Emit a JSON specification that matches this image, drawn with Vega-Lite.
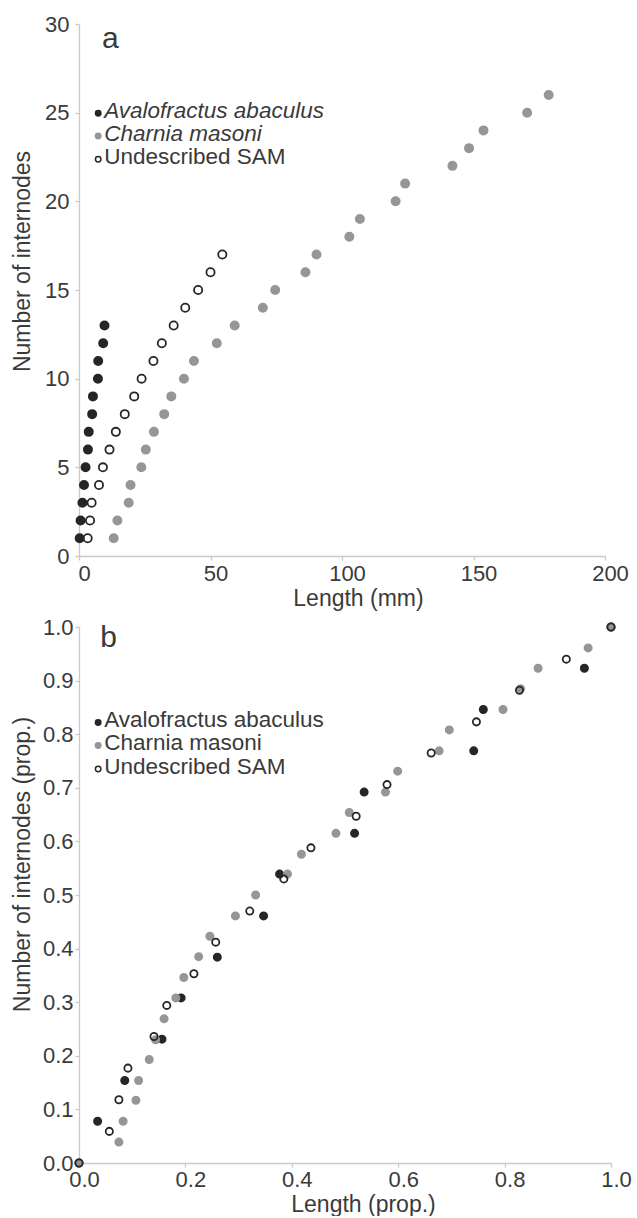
{
  "$schema": "https://vega.github.io/schema/vega-lite/v6.json",
  "background": "white",
  "padding": {"left": 11, "top": 13, "right": 5, "bottom": 0},
  "spacing": 6,
  "config": {
    "font": "Liberation Sans",
    "view": {"stroke": null},
    "axis": {
      "grid": false,
      "labelFlush": false,
      "domainColor": "#c8c8c8",
      "domainWidth": 1.3,
      "tickColor": "#c8c8c8",
      "tickSize": 4,
      "tickWidth": 1.3,
      "labelFont": "Liberation Sans",
      "labelFontSize": 22,
      "labelColor": "#3a3a3a",
      "titleFont": "Liberation Sans",
      "titleFontSize": 23,
      "titleFontWeight": "normal",
      "titleColor": "#3a3a3a"
    },
    "text": {"font": "Liberation Sans", "color": "#3a3a3a"}
  },
  "resolve": {"scale": {"size": "independent"}},
  "datasets": {
    "pointsA": [
      {"species": "Avalofractus abaculus", "length": 0.25, "internodes": 1},
      {"species": "Avalofractus abaculus", "length": 0.6, "internodes": 2},
      {"species": "Avalofractus abaculus", "length": 1.3, "internodes": 3},
      {"species": "Avalofractus abaculus", "length": 1.9, "internodes": 4},
      {"species": "Avalofractus abaculus", "length": 2.5, "internodes": 5},
      {"species": "Avalofractus abaculus", "length": 3.4, "internodes": 6},
      {"species": "Avalofractus abaculus", "length": 3.7, "internodes": 7},
      {"species": "Avalofractus abaculus", "length": 5.0, "internodes": 8},
      {"species": "Avalofractus abaculus", "length": 5.3, "internodes": 9},
      {"species": "Avalofractus abaculus", "length": 7.2, "internodes": 10},
      {"species": "Avalofractus abaculus", "length": 7.3, "internodes": 11},
      {"species": "Avalofractus abaculus", "length": 9.2, "internodes": 12},
      {"species": "Avalofractus abaculus", "length": 9.7, "internodes": 13},
      {"species": "Charnia masoni", "length": 13.2, "internodes": 1},
      {"species": "Charnia masoni", "length": 14.6, "internodes": 2},
      {"species": "Charnia masoni", "length": 18.9, "internodes": 3},
      {"species": "Charnia masoni", "length": 19.6, "internodes": 4},
      {"species": "Charnia masoni", "length": 23.7, "internodes": 5},
      {"species": "Charnia masoni", "length": 25.4, "internodes": 6},
      {"species": "Charnia masoni", "length": 28.5, "internodes": 7},
      {"species": "Charnia masoni", "length": 32.4, "internodes": 8},
      {"species": "Charnia masoni", "length": 35.1, "internodes": 9},
      {"species": "Charnia masoni", "length": 39.9, "internodes": 10},
      {"species": "Charnia masoni", "length": 43.7, "internodes": 11},
      {"species": "Charnia masoni", "length": 52.4, "internodes": 12},
      {"species": "Charnia masoni", "length": 59.2, "internodes": 13},
      {"species": "Charnia masoni", "length": 69.9, "internodes": 14},
      {"species": "Charnia masoni", "length": 74.6, "internodes": 15},
      {"species": "Charnia masoni", "length": 86.1, "internodes": 16},
      {"species": "Charnia masoni", "length": 90.3, "internodes": 17},
      {"species": "Charnia masoni", "length": 102.8, "internodes": 18},
      {"species": "Charnia masoni", "length": 106.8, "internodes": 19},
      {"species": "Charnia masoni", "length": 120.4, "internodes": 20},
      {"species": "Charnia masoni", "length": 124.0, "internodes": 21},
      {"species": "Charnia masoni", "length": 142.0, "internodes": 22},
      {"species": "Charnia masoni", "length": 148.3, "internodes": 23},
      {"species": "Charnia masoni", "length": 153.8, "internodes": 24},
      {"species": "Charnia masoni", "length": 170.4, "internodes": 25},
      {"species": "Charnia masoni", "length": 178.6, "internodes": 26},
      {"species": "Undescribed SAM", "length": 3.3, "internodes": 1},
      {"species": "Undescribed SAM", "length": 4.2, "internodes": 2},
      {"species": "Undescribed SAM", "length": 4.8, "internodes": 3},
      {"species": "Undescribed SAM", "length": 7.6, "internodes": 4},
      {"species": "Undescribed SAM", "length": 9.1, "internodes": 5},
      {"species": "Undescribed SAM", "length": 11.6, "internodes": 6},
      {"species": "Undescribed SAM", "length": 14.0, "internodes": 7},
      {"species": "Undescribed SAM", "length": 17.4, "internodes": 8},
      {"species": "Undescribed SAM", "length": 21.0, "internodes": 9},
      {"species": "Undescribed SAM", "length": 23.8, "internodes": 10},
      {"species": "Undescribed SAM", "length": 28.3, "internodes": 11},
      {"species": "Undescribed SAM", "length": 31.5, "internodes": 12},
      {"species": "Undescribed SAM", "length": 36.0, "internodes": 13},
      {"species": "Undescribed SAM", "length": 40.4, "internodes": 14},
      {"species": "Undescribed SAM", "length": 45.3, "internodes": 15},
      {"species": "Undescribed SAM", "length": 50.0, "internodes": 16},
      {"species": "Undescribed SAM", "length": 54.5, "internodes": 17}
    ],
    "legendA": [
      {"species": "Avalofractus abaculus", "length": 7.3, "internodes": 24.97},
      {"species": "Charnia masoni", "length": 7.3, "internodes": 23.69},
      {"species": "Undescribed SAM", "length": 7.3, "internodes": 22.37}
    ],
    "pointsB": [
      {"species": "Avalofractus abaculus", "length": 0, "internodes": 0},
      {"species": "Avalofractus abaculus", "length": 0.035, "internodes": 0.078},
      {"species": "Avalofractus abaculus", "length": 0.086, "internodes": 0.154},
      {"species": "Avalofractus abaculus", "length": 0.156, "internodes": 0.231},
      {"species": "Avalofractus abaculus", "length": 0.192, "internodes": 0.308},
      {"species": "Avalofractus abaculus", "length": 0.26, "internodes": 0.384},
      {"species": "Avalofractus abaculus", "length": 0.347, "internodes": 0.461},
      {"species": "Avalofractus abaculus", "length": 0.377, "internodes": 0.539},
      {"species": "Avalofractus abaculus", "length": 0.518, "internodes": 0.615},
      {"species": "Avalofractus abaculus", "length": 0.536, "internodes": 0.692},
      {"species": "Avalofractus abaculus", "length": 0.742, "internodes": 0.769},
      {"species": "Avalofractus abaculus", "length": 0.76, "internodes": 0.846},
      {"species": "Avalofractus abaculus", "length": 0.95, "internodes": 0.923},
      {"species": "Avalofractus abaculus", "length": 1, "internodes": 1},
      {"species": "Charnia masoni", "length": 0, "internodes": 0},
      {"species": "Charnia masoni", "length": 0.075, "internodes": 0.039},
      {"species": "Charnia masoni", "length": 0.083, "internodes": 0.078},
      {"species": "Charnia masoni", "length": 0.107, "internodes": 0.117},
      {"species": "Charnia masoni", "length": 0.112, "internodes": 0.154},
      {"species": "Charnia masoni", "length": 0.132, "internodes": 0.193},
      {"species": "Charnia masoni", "length": 0.144, "internodes": 0.23},
      {"species": "Charnia masoni", "length": 0.16, "internodes": 0.269},
      {"species": "Charnia masoni", "length": 0.182, "internodes": 0.308},
      {"species": "Charnia masoni", "length": 0.197, "internodes": 0.346},
      {"species": "Charnia masoni", "length": 0.225, "internodes": 0.385},
      {"species": "Charnia masoni", "length": 0.246, "internodes": 0.423},
      {"species": "Charnia masoni", "length": 0.294, "internodes": 0.461},
      {"species": "Charnia masoni", "length": 0.332, "internodes": 0.5},
      {"species": "Charnia masoni", "length": 0.392, "internodes": 0.539},
      {"species": "Charnia masoni", "length": 0.418, "internodes": 0.576},
      {"species": "Charnia masoni", "length": 0.483, "internodes": 0.615},
      {"species": "Charnia masoni", "length": 0.508, "internodes": 0.654},
      {"species": "Charnia masoni", "length": 0.576, "internodes": 0.692},
      {"species": "Charnia masoni", "length": 0.599, "internodes": 0.731},
      {"species": "Charnia masoni", "length": 0.677, "internodes": 0.769},
      {"species": "Charnia masoni", "length": 0.696, "internodes": 0.808},
      {"species": "Charnia masoni", "length": 0.797, "internodes": 0.846},
      {"species": "Charnia masoni", "length": 0.83, "internodes": 0.885},
      {"species": "Charnia masoni", "length": 0.863, "internodes": 0.923},
      {"species": "Charnia masoni", "length": 0.957, "internodes": 0.961},
      {"species": "Charnia masoni", "length": 1, "internodes": 1},
      {"species": "Undescribed SAM", "length": 0, "internodes": 0},
      {"species": "Undescribed SAM", "length": 0.057, "internodes": 0.059},
      {"species": "Undescribed SAM", "length": 0.075, "internodes": 0.118},
      {"species": "Undescribed SAM", "length": 0.092, "internodes": 0.177},
      {"species": "Undescribed SAM", "length": 0.141, "internodes": 0.236},
      {"species": "Undescribed SAM", "length": 0.165, "internodes": 0.294},
      {"species": "Undescribed SAM", "length": 0.216, "internodes": 0.353},
      {"species": "Undescribed SAM", "length": 0.257, "internodes": 0.412},
      {"species": "Undescribed SAM", "length": 0.321, "internodes": 0.47},
      {"species": "Undescribed SAM", "length": 0.385, "internodes": 0.53},
      {"species": "Undescribed SAM", "length": 0.436, "internodes": 0.588},
      {"species": "Undescribed SAM", "length": 0.521, "internodes": 0.647},
      {"species": "Undescribed SAM", "length": 0.579, "internodes": 0.706},
      {"species": "Undescribed SAM", "length": 0.662, "internodes": 0.765},
      {"species": "Undescribed SAM", "length": 0.747, "internodes": 0.823},
      {"species": "Undescribed SAM", "length": 0.828, "internodes": 0.882},
      {"species": "Undescribed SAM", "length": 0.916, "internodes": 0.94},
      {"species": "Undescribed SAM", "length": 1, "internodes": 1}
    ],
    "legendB": [
      {"species": "Avalofractus abaculus", "length": 0.036, "internodes": 0.822},
      {"species": "Charnia masoni", "length": 0.036, "internodes": 0.779},
      {"species": "Undescribed SAM", "length": 0.036, "internodes": 0.735}
    ]
  },
  "vconcat": [
    {
      "width": 526,
      "height": 532,
      "encoding": {
        "x": {
          "field": "length",
          "type": "quantitative",
          "scale": {"domain": [0, 200], "nice": false, "zero": true},
          "axis": {"values": [0, 50, 100, 150, 200], "title": "Length (mm)", "labelPadding": 3, "labelOffset": 5, "titlePadding": 3, "titleX": 279}
        },
        "y": {
          "field": "internodes",
          "type": "quantitative",
          "scale": {"domain": [0, 30], "nice": false, "zero": true},
          "axis": {"values": [0, 5, 10, 15, 20, 25, 30], "title": "Number of internodes", "labelPadding": 6, "titlePadding": 10, "titleY": 237}
        }
      },
      "layer": [
        {
          "data": {"name": "pointsA"},
          "mark": {"type": "point", "shape": "circle", "strokeWidth": 1.8, "opacity": 1},
          "encoding": {
            "fill": {"field": "species", "type": "nominal", "legend": null,
              "scale": {"domain": ["Avalofractus abaculus", "Charnia masoni", "Undescribed SAM"], "range": ["#262626", "#969696", "transparent"]}},
            "stroke": {"field": "species", "type": "nominal", "legend": null,
              "scale": {"domain": ["Avalofractus abaculus", "Charnia masoni", "Undescribed SAM"], "range": ["#262626", "#969696", "#262626"]}},
            "size": {"field": "species", "type": "nominal", "legend": null,
              "scale": {"domain": ["Avalofractus abaculus", "Charnia masoni", "Undescribed SAM"], "range": [67, 67, 52]}}
          }
        },
        {
          "data": {"name": "legendA"},
          "mark": {"type": "point", "shape": "circle", "strokeWidth": 1.5, "opacity": 1, "size": 30},
          "encoding": {
            "fill": {"field": "species", "type": "nominal", "legend": null},
            "stroke": {"field": "species", "type": "nominal", "legend": null}
          }
        },
        {
          "data": {"name": "legendA"},
          "transform": [{"filter": "datum.species != 'Undescribed SAM'"}],
          "mark": {"type": "text", "align": "left", "baseline": "middle", "dx": 6, "dy": -2, "fontSize": 22.5, "fontStyle": "italic"},
          "encoding": {"text": {"field": "species", "type": "nominal"}}
        },
        {
          "data": {"name": "legendA"},
          "transform": [{"filter": "datum.species == 'Undescribed SAM'"}],
          "mark": {"type": "text", "align": "left", "baseline": "middle", "dx": 6, "dy": -2, "fontSize": 22.5},
          "encoding": {"text": {"field": "species", "type": "nominal"}}
        },
        {
          "data": {"values": [{"length": 8.7, "internodes": 28.63, "label": "a"}]},
          "mark": {"type": "text", "align": "left", "baseline": "alphabetic", "fontSize": 30},
          "encoding": {"text": {"field": "label", "type": "nominal"}}
        }
      ]
    },
    {
      "width": 532,
      "height": 536,
      "encoding": {
        "x": {
          "field": "length",
          "type": "quantitative",
          "scale": {"domain": [0, 1], "nice": false, "zero": true},
          "axis": {"values": [0, 0.2, 0.4, 0.6, 0.8, 1], "format": ".1f", "title": "Length (prop.)", "labelPadding": 2, "labelOffset": 5, "titlePadding": 3, "titleX": 284}
        },
        "y": {
          "field": "internodes",
          "type": "quantitative",
          "scale": {"domain": [0, 1], "nice": false, "zero": true},
          "axis": {"values": [0, 0.1, 0.2, 0.3, 0.4, 0.5, 0.6, 0.7, 0.8, 0.9, 1], "format": ".1f", "title": "Number of internodes (prop.)", "labelPadding": 2, "titlePadding": 8, "titleY": 237}
        }
      },
      "layer": [
        {
          "data": {"name": "pointsB"},
          "mark": {"type": "point", "shape": "circle", "strokeWidth": 1.8, "opacity": 1},
          "encoding": {
            "fill": {"field": "species", "type": "nominal", "legend": null,
              "scale": {"domain": ["Avalofractus abaculus", "Charnia masoni", "Undescribed SAM"], "range": ["#262626", "#969696", "transparent"]}},
            "stroke": {"field": "species", "type": "nominal", "legend": null,
              "scale": {"domain": ["Avalofractus abaculus", "Charnia masoni", "Undescribed SAM"], "range": ["#262626", "#969696", "#262626"]}},
            "size": {"field": "species", "type": "nominal", "legend": null,
              "scale": {"domain": ["Avalofractus abaculus", "Charnia masoni", "Undescribed SAM"], "range": [52, 52, 38]}}
          }
        },
        {
          "data": {"name": "legendB"},
          "mark": {"type": "point", "shape": "circle", "strokeWidth": 1.5, "opacity": 1, "size": 30},
          "encoding": {
            "fill": {"field": "species", "type": "nominal", "legend": null},
            "stroke": {"field": "species", "type": "nominal", "legend": null}
          }
        },
        {
          "data": {"name": "legendB"},
          "mark": {"type": "text", "align": "left", "baseline": "middle", "dx": 6, "dy": -2, "fontSize": 22.5},
          "encoding": {"text": {"field": "species", "type": "nominal"}}
        },
        {
          "data": {"values": [{"length": 0.04, "internodes": 0.963, "label": "b"}]},
          "mark": {"type": "text", "align": "left", "baseline": "alphabetic", "fontSize": 30},
          "encoding": {"text": {"field": "label", "type": "nominal"}}
        }
      ]
    }
  ]
}
